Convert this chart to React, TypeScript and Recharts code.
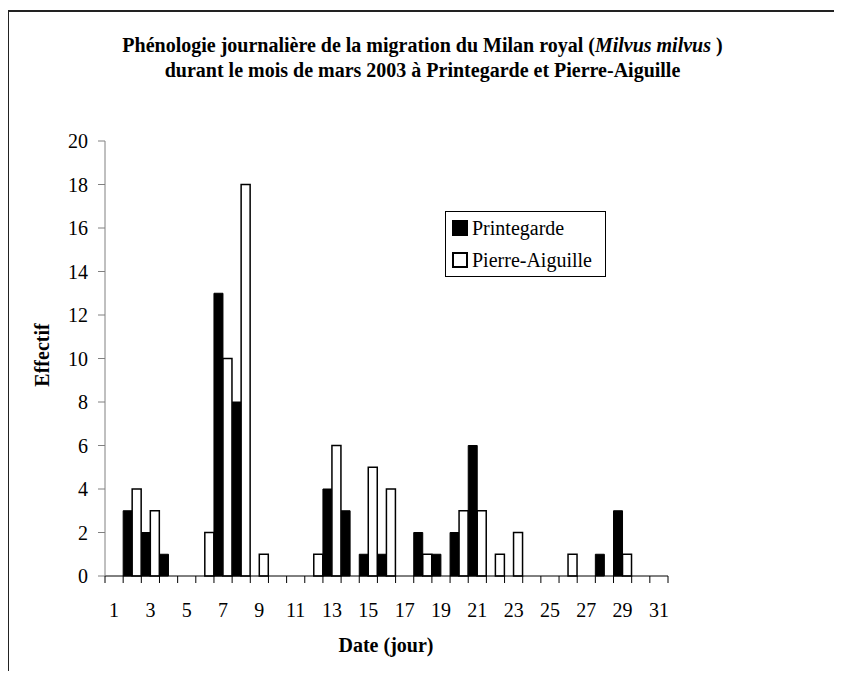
import React from "react";
import { BarChart, Bar, XAxis, YAxis } from "recharts";

// jours du mois de mars 2003
const days = Array.from({ length: 31 }, (_, i) => i + 1);
const printegarde = [0, 3, 2, 1, 0, 0, 13, 8, 0, 0, 0, 0, 4, 3, 1, 1, 0, 2, 1, 2, 6, 0, 0, 0, 0, 0, 0, 1, 3, 0, 0];
const pierreAiguille = [0, 4, 3, 0, 0, 2, 10, 18, 1, 0, 0, 1, 6, 0, 5, 4, 0, 1, 0, 3, 3, 1, 2, 0, 0, 1, 0, 0, 1, 0, 0];
const yTicks = [0, 2, 4, 6, 8, 10, 12, 14, 16, 18, 20];

const data = days.map((d, i) => ({
  day: d,
  printegarde: printegarde[i],
  pierreAiguille: pierreAiguille[i],
}));

const FONT = "'Liberation Serif', 'Times New Roman', serif";
const HALF_BAND = (668 - 105) / 31 / 2;

// tick : trait aux limites de catégorie, étiquette un jour sur deux
const DayTick = (props: any) => {
  const { x, y, payload, index } = props;
  const left = x - HALF_BAND;
  const right = x + HALF_BAND;
  return (
    <g>
      <line x1={left} x2={left} y1={y - 7} y2={y} stroke="#000" />
      {index === days.length - 1 && (
        <line x1={right} x2={right} y1={y - 7} y2={y} stroke="#000" />
      )}
      {payload.value % 2 === 1 && (
        <text x={x} y={y + 34} textAnchor="middle" fontFamily={FONT} fontSize={20} fill="#000">
          {payload.value}
        </text>
      )}
    </g>
  );
};

const LegendBox = () => (
  <div
    style={{
      position: "absolute",
      left: 445,
      top: 211,
      width: 159,
      height: 64,
      border: "1px solid #000",
      fontFamily: FONT,
      fontSize: 20,
      background: "#fff",
    }}
  >
    <div style={{ display: "flex", alignItems: "center", height: 32, paddingLeft: 6 }}>
      <span style={{ width: 14, height: 14, background: "#000", border: "1px solid #000", marginRight: 4 }} />
      Printegarde
    </div>
    <div style={{ display: "flex", alignItems: "center", height: 32, paddingLeft: 6 }}>
      <span style={{ width: 12, height: 12, background: "#fff", border: "2px solid #000", marginRight: 4 }} />
      Pierre-Aiguille
    </div>
  </div>
);

export default function App() {
  return (
    <div
      style={{
        position: "relative",
        width: 842,
        height: 679,
        margin: -8,
        overflow: "hidden",
        background: "#fff",
      }}
    >
      {/* cadre : seuls les bords haut et gauche sont visibles */}
      <div style={{ position: "absolute", left: 7, top: 10, width: 835, height: 2, background: "#222" }} />
      <div style={{ position: "absolute", left: 7, top: 10, width: 2, height: 669, background: "#222" }} />
      <div
        style={{
          position: "absolute",
          left: 7,
          top: 33,
          width: 831,
          textAlign: "center",
          fontFamily: FONT,
          fontWeight: "bold",
          fontSize: 20,
          lineHeight: "25px",
        }}
      >
        Phénologie journalière de la migration du Milan royal (<i>Milvus milvus </i>)
        <br />
        durant le mois de mars 2003 à Printegarde et Pierre-Aiguille
      </div>
      <div style={{ position: "absolute", left: 0, top: 0 }}>
        <BarChart
          width={842}
          height={679}
          data={data}
          margin={{ top: 141, right: 174, bottom: 73, left: 45 }}
          barCategoryGap={0}
          barGap={0}
        >
          <XAxis
            dataKey="day"
            interval={0}
            tickLine={false}
            tickSize={7}
            tickMargin={0}
            height={30}
            axisLine={{ stroke: "#000" }}
            tick={<DayTick />}
          />
          <YAxis
            domain={[0, 20]}
            ticks={yTicks}
            width={60}
            interval={0}
            tickSize={7}
            tickMargin={10}
            axisLine={{ stroke: "#808080" }}
            tickLine={{ stroke: "#808080" }}
            tick={{ fill: "#000", fontSize: 20, fontFamily: FONT }}
          />
          <Bar dataKey="printegarde" name="Printegarde" fill="#000" stroke="#000" strokeWidth={1} isAnimationActive={false} />
          <Bar dataKey="pierreAiguille" name="Pierre-Aiguille" fill="#fff" stroke="#000" strokeWidth={1.5} isAnimationActive={false} />
        </BarChart>
      </div>
      <LegendBox />
      <div
        style={{
          position: "absolute",
          left: 42,
          top: 355,
          transform: "translate(-50%, -50%) rotate(-90deg)",
          fontFamily: FONT,
          fontWeight: "bold",
          fontSize: 20,
          whiteSpace: "nowrap",
        }}
      >
        Effectif
      </div>
      <div
        style={{
          position: "absolute",
          left: 386,
          top: 645,
          transform: "translate(-50%, -50%)",
          fontFamily: FONT,
          fontWeight: "bold",
          fontSize: 20,
          whiteSpace: "nowrap",
        }}
      >
        Date (jour)
      </div>
    </div>
  );
}
